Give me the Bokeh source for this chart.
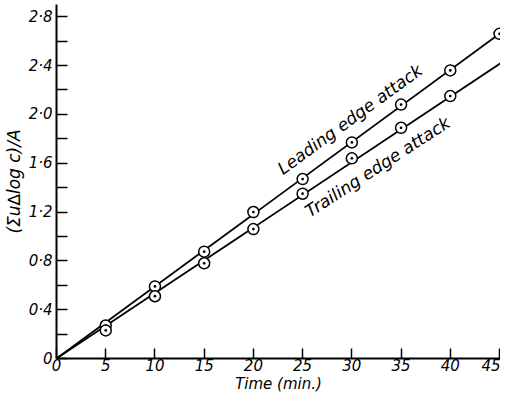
from bokeh.plotting import figure
from bokeh.models import Range1d, FixedTicker, Label
from bokeh.embed import file_html
from bokeh.resources import INLINE

# ---- data ----
time_lead = [5, 10, 15, 20, 25, 30, 35, 40, 45]
leading = [0.27, 0.59, 0.875, 1.20, 1.47, 1.77, 2.08, 2.36, 2.66]

time_trail = [5, 10, 15, 20, 25, 30, 35, 40]
trailing = [0.23, 0.51, 0.78, 1.06, 1.35, 1.64, 1.89, 2.15]

# fitted straight lines through the origin
lead_line_x = [0, 45]
lead_line_y = [0, 2.66]
trail_line_x = [0, 45.7]
trail_line_y = [0, 2.45]

x_ticks = [0, 5, 10, 15, 20, 25, 30, 35, 40, 45]
y_ticks = [0, 0.4, 0.8, 1.2, 1.6, 2.0, 2.4, 2.8]
y_tick_labels = ["0", "0·4", "0·8", "1·2", "1·6", "2·0", "2·4", "2·8"]
y_minor = [0.2, 0.6, 1.0, 1.4, 1.8, 2.2, 2.6]

FONT = "DejaVu Sans"

p = figure(width=500, height=395, output_backend="svg", toolbar_location=None,
           x_range=Range1d(0, 45.1), y_range=Range1d(0, 2.9),
           min_border_left=40, min_border_right=0, min_border_top=4,
           min_border_bottom=28)
p.grid.visible = False
p.outline_line_color = None
p.background_fill_color = "white"
p.border_fill_color = "white"

# lines
p.line(lead_line_x, lead_line_y, line_color="black", line_width=1.8)
p.line(trail_line_x, trail_line_y, line_color="black", line_width=1.8)

# points
p.scatter(time_lead, leading, marker="circle_dot", size=11, line_color="black",
          fill_color="white", line_width=1.5)
p.scatter(time_trail, trailing, marker="circle_dot", size=11, line_color="black",
          fill_color="white", line_width=1.5)

# axes
xa = p.xaxis[0]
xa.ticker = FixedTicker(ticks=x_ticks)
xa.axis_line_width = 2
xa.major_tick_in = 10
xa.major_tick_out = 0
xa.major_tick_line_width = 1.5
xa.minor_tick_line_color = None
xa.major_label_text_font = FONT
xa.major_label_text_font_style = "italic"
xa.major_label_text_font_size = "15px"
xa.major_label_text_color = "black"
xa.major_label_standoff = 0
xa.axis_label = "Time (min.)"
xa.axis_label_text_font = FONT
xa.axis_label_text_font_style = "italic"
xa.axis_label_text_font_size = "15px"
xa.axis_label_text_color = "black"
xa.axis_label_standoff = 1

ya = p.yaxis[0]
ya.ticker = FixedTicker(ticks=y_ticks, minor_ticks=y_minor)
ya.major_label_overrides = dict(zip(y_ticks, y_tick_labels))
ya.axis_line_width = 2
ya.major_tick_in = 11
ya.major_tick_out = 0
ya.minor_tick_in = 11
ya.minor_tick_out = 0
ya.major_tick_line_width = 1.5
ya.minor_tick_line_width = 1.5
ya.major_label_text_font = FONT
ya.major_label_text_font_style = "italic"
ya.major_label_text_font_size = "15px"
ya.major_label_text_color = "black"
ya.major_label_standoff = 4
ya.axis_label = "(Σu∆log c)/A"
ya.axis_label_text_font = FONT
ya.axis_label_text_font_style = "italic"
ya.axis_label_text_font_size = "17px"
ya.axis_label_text_color = "black"
ya.axis_label_standoff = 2

# in-chart labels
p.add_layout(Label(x=29.8, y=1.96, text="Leading edge attack", text_font=FONT,
                   text_font_style="italic", text_font_size="17px",
                   text_align="center", text_baseline="middle",
                   angle=36, angle_units="deg", text_color="black"))
p.add_layout(Label(x=32.6, y=1.57, text="Trailing edge attack", text_font=FONT,
                   text_font_style="italic", text_font_size="17px",
                   text_align="center", text_baseline="middle",
                   angle=33, angle_units="deg", text_color="black"))

open("out.html", "w").write(file_html(p, INLINE))
